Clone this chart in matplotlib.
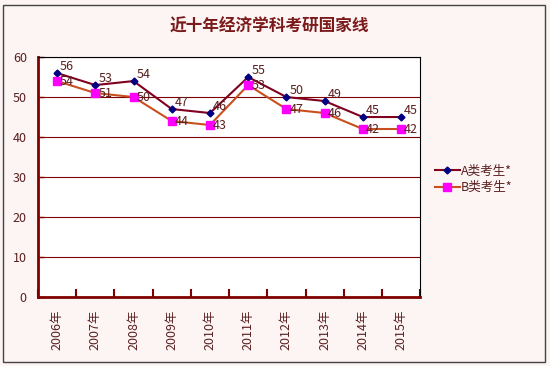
import numpy as np
import matplotlib.pyplot as plt
from matplotlib.patches import Rectangle

plt.rcParams['font.family'] = ['Noto Sans CJK SC', 'DejaVu Sans']

years = ['2006年', '2007年', '2008年', '2009年', '2010年',
         '2011年', '2012年', '2013年', '2014年', '2015年']
a_scores = [56, 53, 54, 47, 46, 55, 50, 49, 45, 45]
b_scores = [54, 51, 50, 44, 43, 53, 47, 46, 42, 42]

bg = '#fdf4f4'
axis_red = '#800000'
text_col = '#5a2020'

fig = plt.figure(figsize=(5.5, 3.66), dpi=100, facecolor=bg)
fig.patches.append(Rectangle((0.006, 0.011), 0.985, 0.975, transform=fig.transFigure,
                             fill=False, edgecolor='#444444', linewidth=1))

ax = fig.add_axes([0.069, 0.189, 0.695, 0.655])
ax.set_facecolor('white')

x = np.arange(len(years))
ax.plot(x, a_scores, color='#800020', linewidth=1.5, marker='D', markersize=3.5,
        markerfacecolor='#000080', markeredgecolor='#000080', label='A类考生*', zorder=3)
ax.plot(x, b_scores, color='#c8501e', linewidth=1.5, marker='s', markersize=5.5,
        markerfacecolor='#ff00ff', markeredgecolor='#ff00ff', label='B类考生*', zorder=3)

for xi, v in zip(x, a_scores):
    ax.text(xi + 0.08, v + 0.1, str(v), fontsize=9, color=text_col, va='bottom', ha='left')
for xi, v in zip(x, b_scores):
    ax.text(xi + 0.08, v, str(v), fontsize=9, color=text_col, va='center', ha='left')

ax.set_xlim(-0.5, 9.5)
ax.set_ylim(0, 60)
ax.set_yticks(range(0, 61, 10))
ax.yaxis.grid(True, color=axis_red, linewidth=0.8)
ax.set_axisbelow(True)
ax.set_xticks(x)
ax.set_xticklabels(years, rotation=90, fontsize=9, color=text_col)
ax.set_xticks(np.arange(-0.5, 10, 1), minor=True)
ax.tick_params(axis='x', which='major', length=0, pad=9)
ax.tick_params(axis='x', which='minor', direction='in', length=6, width=1.5, color=axis_red)
ax.tick_params(axis='y', direction='in', length=4, width=1, color=axis_red,
               labelsize=9, labelcolor=text_col, pad=8)

for s in ['left', 'bottom']:
    ax.spines[s].set_color(axis_red)
    ax.spines[s].set_linewidth(2)
for s in ['top', 'right']:
    ax.spines[s].set_color('black')
    ax.spines[s].set_linewidth(0.8)

fig.text(0.49, 0.928, '近十年经济学科考研国家线', ha='center', va='center',
         fontsize=12, fontweight='bold', color='#7a1a1a')

leg = fig.legend(loc='center left', bbox_to_anchor=(0.77, 0.51), frameon=False,
                 fontsize=9, handlelength=2, handletextpad=0.1, labelspacing=0.3)
for t in leg.get_texts():
    t.set_color(text_col)

fig.savefig('out.png', dpi=100, facecolor=bg)
